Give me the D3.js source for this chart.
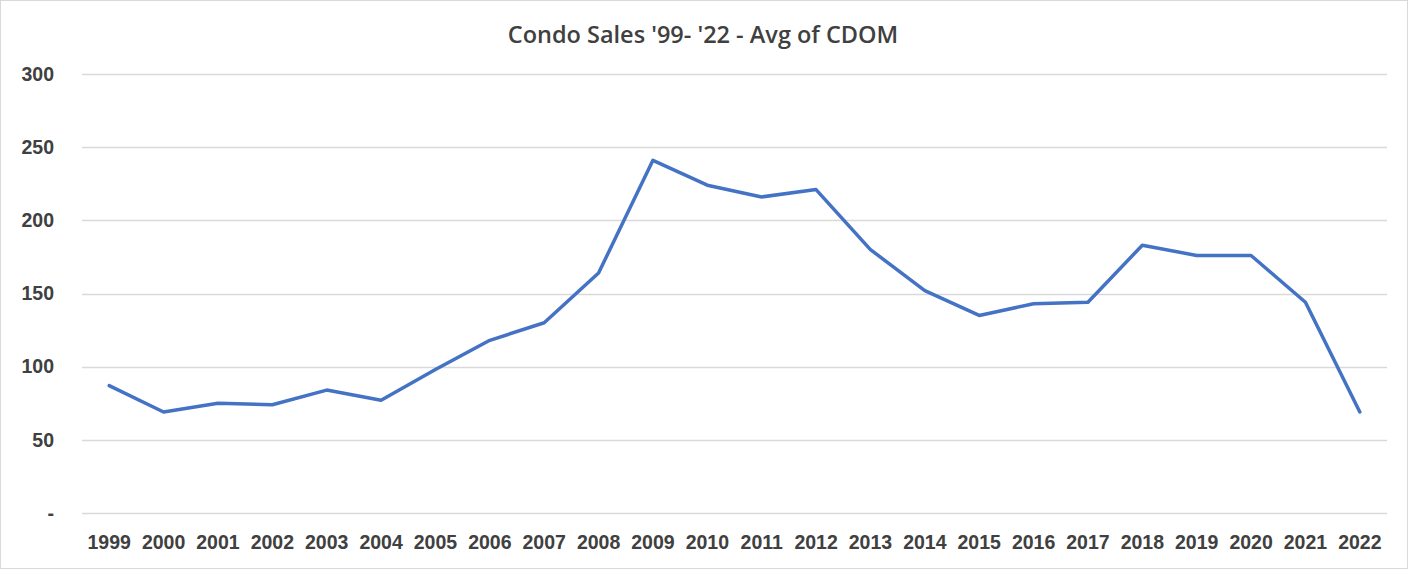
<!DOCTYPE html>
<html>
<head>
<meta charset="utf-8">
<script src="https://cdn.jsdelivr.net/npm/d3@7"></script>
<style>
  html, body { margin: 0; padding: 0; background: #fff; }
  svg { display: block; }
</style>
</head>
<body>
<div id="chart"></div>
<script>
// Chart data
const years = ["1999", "2000", "2001", "2002", "2003", "2004", "2005", "2006",
    "2007", "2008", "2009", "2010", "2011", "2012", "2013", "2014", "2015",
    "2016", "2017", "2018", "2019", "2020", "2021", "2022"];
const avgCdom = [87, 69, 75, 74, 84, 77, 98, 118, 130, 164, 241, 224, 216, 221,
    180, 152, 135, 143, 144, 183, 176, 176, 144, 69];
const yTicks = [0, 50, 100, 150, 200, 250, 300];
const title = "Condo Sales '99- '22 - Avg of CDOM";

const width = 1408;
const height = 571;
const margin = { top: 74, right: 21, bottom: 58, left: 82 };

const svg = d3.select("#chart")
    .append("svg")
    .attr("width", width)
    .attr("height", height);

// Outer chart border
svg.append("rect")
    .attr("x", 0.5)
    .attr("y", 0.5)
    .attr("width", width - 1)
    .attr("height", height - 3)
    .attr("fill", "#fff")
    .attr("stroke", "#d9d9d9");

const x = d3.scaleBand()
    .domain(years)
    .range([margin.left, width - margin.right]);

const y = d3.scaleLinear()
    .domain([0, 300])
    .range([height - margin.bottom, margin.top]);

// Horizontal gridlines
svg.append("g")
    .attr("class", "grid")
    .selectAll("line")
    .data(yTicks)
    .enter()
    .append("line")
    .attr("x1", margin.left)
    .attr("x2", width - margin.right)
    .attr("y1", d => Math.round(y(d)) + 0.5)
    .attr("y2", d => Math.round(y(d)) + 0.5)
    .attr("stroke", "#d9d9d9")
    .attr("stroke-width", 1.3);

const labelStyle = g => g.selectAll("text")
    .attr("font-family", "Liberation Sans, Arial, sans-serif")
    .attr("font-weight", "bold")
    .attr("font-size", 19.5)
    .attr("fill", "#404040");

// Y axis labels (zero shown as a dash)
const yAxis = d3.axisLeft(y)
    .tickValues(yTicks)
    .tickSize(0)
    .tickPadding(28)
    .tickFormat(d => d === 0 ? "-" : d);

svg.append("g")
    .attr("transform", `translate(${margin.left},0)`)
    .call(yAxis)
    .call(g => g.select(".domain").remove())
    .call(labelStyle);

// X axis labels
const xAxis = d3.axisBottom(x)
    .tickSize(0)
    .tickPadding(22);

svg.append("g")
    .attr("transform", `translate(0,${height - margin.bottom})`)
    .call(xAxis)
    .call(g => g.select(".domain").remove())
    .call(labelStyle);

// The data line
const line = d3.line()
    .x((d, i) => x(years[i]) + x.bandwidth() / 2)
    .y(d => y(d));

svg.append("path")
    .datum(avgCdom)
    .attr("fill", "none")
    .attr("stroke", "#4472c4")
    .attr("stroke-width", 3.5)
    .attr("stroke-linejoin", "round")
    .attr("stroke-linecap", "round")
    .attr("d", line);

// Title
svg.append("text")
    .attr("x", 703)
    .attr("y", 43)
    .attr("text-anchor", "middle")
    .attr("font-family", "Open Sans, Liberation Sans, sans-serif")
    .attr("font-weight", 600)
    .attr("font-size", 23.5)
    .attr("fill", "#404040")
    .text(title);
</script>
</body>
</html>
